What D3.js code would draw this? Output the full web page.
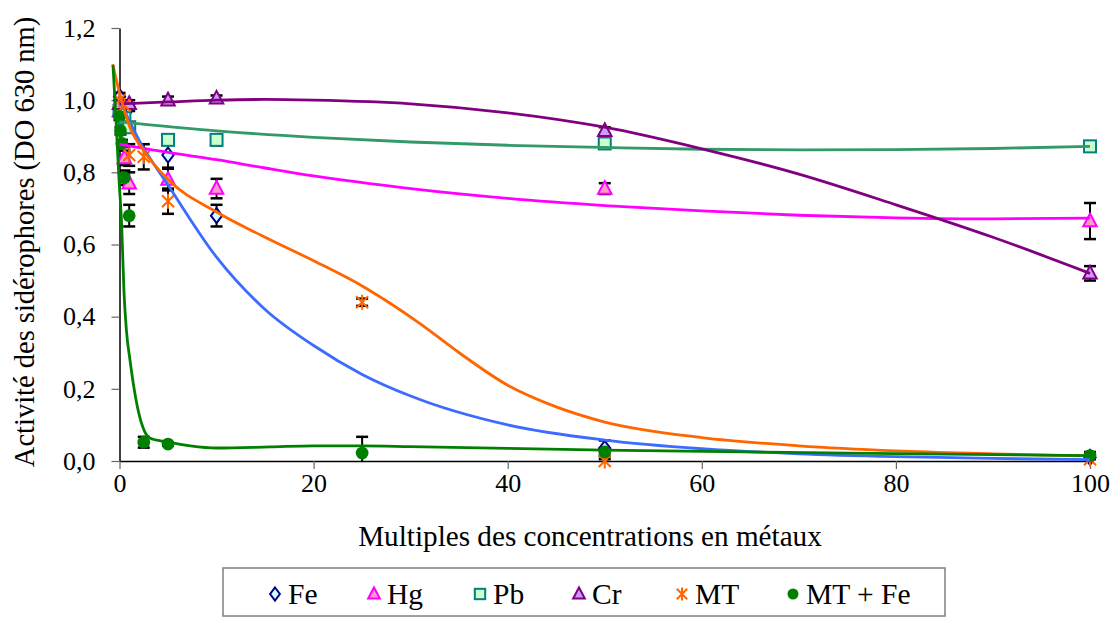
<!DOCTYPE html>
<html><head><meta charset="utf-8">
<script src="https://cdn.jsdelivr.net/npm/d3@7"></script>
<style>body{margin:0;background:#fff}svg{display:block}text{font-family:"Liberation Serif","Times New Roman",serif;fill:#000}</style>
</head><body>
<svg id="c" width="1115" height="619"></svg>
<script>
// ---- data ----
const feX = [0, 1, 5, 10, 50, 100];
const feY = [1.01, 0.98, 0.848, 0.68, 0.035, 0.01];
const feErr = [0.01, 0.01, 0.035, 0.03, 0.022, 0.01];

const hgX = [0, 0.5, 1, 5, 10, 50, 100];
const hgY = [0.97, 0.84, 0.77, 0.78, 0.755, 0.755, 0.665];
const hgErr = [0.01, 0.02, 0.03, 0.03, 0.027, 0.015, 0.05];

const pbX = [0, 0.5, 1, 5, 10, 50, 100];
const pbY = [0.97, 0.95, 0.925, 0.89, 0.89, 0.88, 0.872];
const pbErr = [0.01, 0.01, 0.01, 0.01, 0.015, 0.01, 0.005];

const crX = [0, 1, 5, 10, 50, 100];
const crY = [0.99, 0.99, 1.0, 1.005, 0.915, 0.52];
const crErr = [0.01, 0.01, 0.01, 0.008, 0.01, 0.02];

const mtX = [0, 0.5, 1, 2.5, 5, 25, 50, 100];
const mtY = [1.0, 0.985, 0.848, 0.843, 0.72, 0.44, 0.0, 0.005];
const mtErr = [0.01, 0.01, 0.03, 0.035, 0.035, 0.01, 0.005, 0.005];

const mfX = [0, 0.1, 0.25, 0.5, 1, 2.5, 5, 25, 50, 100];
const mfY = [0.955, 0.915, 0.88, 0.785, 0.68, 0.052, 0.047, 0.022, 0.025, 0.015];
const mfErr = [0.01, 0.01, 0.01, 0.02, 0.03, 0.015, 0.005, 0.045, 0.01, 0.01];

// trend curves
const feTrendX = [0, 2, 5, 10, 15, 20, 25, 30, 40, 50, 60, 70, 80, 90, 100];
const feTrendY = [1.0, 0.89, 0.765, 0.565, 0.42, 0.32, 0.24, 0.18, 0.10, 0.058, 0.034, 0.02, 0.012, 0.007, 0.004];

const hgTrendX = [0, 5, 10, 15, 20, 30, 40, 50, 60, 70, 80, 90, 100];
const hgTrendY = [0.878, 0.855, 0.835, 0.812, 0.79, 0.755, 0.728, 0.708, 0.693, 0.681, 0.674, 0.671, 0.673];

const pbTrendX = [0, 10, 20, 30, 40, 50, 60, 70, 80, 90, 100];
const pbTrendY = [0.94, 0.915, 0.897, 0.884, 0.875, 0.869, 0.864, 0.862, 0.863, 0.866, 0.872];

const crTrendX = [0, 5, 10, 15, 20, 30, 40, 50, 60, 70, 80, 90, 100];
const crTrendY = [0.99, 0.995, 1.0, 1.002, 1.0, 0.99, 0.965, 0.925, 0.865, 0.795, 0.71, 0.62, 0.52];

const mtTrendX = [-0.7, 0, 1, 2.5, 5, 10, 15, 20, 25, 28, 31, 35, 40, 45, 50, 60, 70, 80, 90, 99];
const mtTrendY = [1.10, 1.02, 0.93, 0.86, 0.78, 0.69, 0.62, 0.555, 0.485, 0.435, 0.38, 0.30, 0.21, 0.15, 0.108, 0.065, 0.042, 0.028, 0.02, 0.014];

const mfTrendX = [-0.67, -0.36, -0.05, 0.23, 0.46, 0.72, 1.08, 1.7, 2.4, 3.1, 4.9, 7.3, 10, 15.5, 20, 25, 30, 50, 75, 100];
const mfTrendY = [1.097, 0.945, 0.78, 0.65, 0.47, 0.36, 0.28, 0.17, 0.094, 0.064, 0.053, 0.042, 0.036, 0.039, 0.042, 0.042, 0.04, 0.03, 0.022, 0.015];

const yTicks = [0, 0.2, 0.4, 0.6, 0.8, 1.0, 1.2];
const xTicks = [0, 20, 40, 60, 80, 100];
const legendLabels = ["Fe", "Hg", "Pb", "Cr", "MT", "MT + Fe"];

// ---- chart ----
const svg = d3.select("#c");
const x = d3.scaleLinear().domain([0, 100]).range([119.5, 1090]);
const y = d3.scaleLinear().domain([0, 1.2]).range([461, 28]);
const fmt = d => d3.format(".1f")(d).replace(".", ",");

const gy = svg.append("g").attr("transform", `translate(${x(0)},0)`)
  .call(d3.axisLeft(y).tickValues(yTicks).tickFormat(fmt).tickSize(8).tickSizeOuter(0).tickPadding(16));
const gx = svg.append("g").attr("transform", `translate(0,${y(0)})`)
  .call(d3.axisBottom(x).tickValues(xTicks).tickSize(8).tickSizeOuter(0).tickPadding(5));
[gx, gy].forEach(g => {
  g.selectAll("text").style("font-size", "26px").style("font-family", '"Liberation Serif",serif');
  g.select(".domain").attr("stroke", "#000").attr("stroke-width", 1.5);
  g.selectAll(".tick line").attr("stroke", "#666").attr("stroke-width", 1.2);
});

svg.append("text").attr("x", 590).attr("y", 546).attr("text-anchor", "middle")
  .style("font-size", "29.2px").text("Multiples des concentrations en métaux");
svg.append("text").attr("transform", "translate(34,242) rotate(-90)").attr("text-anchor", "middle")
  .style("font-size", "28.5px").text("Activité des sidérophores (DO 630 nm)");

const series = [
  {name: "Fe", xs: feX, ys: feY, err: feErr, tx: feTrendX, ty: feTrendY, line: "#3d6bff", shape: "diamond", stroke: "#000080", fill: "#ccffff"},
  {name: "Hg", xs: hgX, ys: hgY, err: hgErr, tx: hgTrendX, ty: hgTrendY, line: "#ff00ff", shape: "triangle", stroke: "#ff00ff", fill: "#ff99cc"},
  {name: "Pb", xs: pbX, ys: pbY, err: pbErr, tx: pbTrendX, ty: pbTrendY, line: "#339966", shape: "square", stroke: "#008080", fill: "#ccffcc"},
  {name: "Cr", xs: crX, ys: crY, err: crErr, tx: crTrendX, ty: crTrendY, line: "#800080", shape: "triangle", stroke: "#800080", fill: "#cc99ff"},
  {name: "MT", xs: mtX, ys: mtY, err: mtErr, tx: mtTrendX, ty: mtTrendY, line: "#ff6600", shape: "star", stroke: "#ff6600", fill: "none"},
  {name: "MT + Fe", xs: mfX, ys: mfY, err: mfErr, tx: mfTrendX, ty: mfTrendY, line: "#008000", shape: "circle", stroke: "#008000", fill: "#008000"}
];

function marker(g, shape, cx, cy, s, stroke, fill) {
  if (shape === "diamond") {
    g.append("path").attr("d", `M${cx},${cy - s}L${cx + s * 0.75},${cy}L${cx},${cy + s}L${cx - s * 0.75},${cy}Z`)
      .attr("fill", fill).attr("stroke", stroke).attr("stroke-width", 2);
  } else if (shape === "triangle") {
    g.append("path").attr("d", `M${cx},${cy - s}L${cx + s * 0.9},${cy + s * 0.7}L${cx - s * 0.9},${cy + s * 0.7}Z`)
      .attr("fill", fill).attr("stroke", stroke).attr("stroke-width", 2);
  } else if (shape === "square") {
    const h = s * 0.8;
    g.append("rect").attr("x", cx - h).attr("y", cy - h).attr("width", 2 * h).attr("height", 2 * h)
      .attr("fill", fill).attr("stroke", stroke).attr("stroke-width", 2);
  } else if (shape === "circle") {
    g.append("circle").attr("cx", cx).attr("cy", cy).attr("r", s * 0.85).attr("fill", fill);
  } else if (shape === "star") {
    const d = s * 0.8;
    g.append("path").attr("d", `M${cx - d},${cy - d}L${cx + d},${cy + d}M${cx + d},${cy - d}L${cx - d},${cy + d}M${cx},${cy - s}L${cx},${cy + s}`)
      .attr("stroke", stroke).attr("stroke-width", 2).attr("fill", "none");
  }
}

// error bars
const ge = svg.append("g");
series.forEach(s => {
  s.xs.forEach((xv, i) => {
    const px = x(xv);
    const top = y(s.ys[i] + s.err[i]);
    const bot = y(Math.max(0, s.ys[i] - s.err[i]));
    ge.append("line").attr("x1", px).attr("x2", px).attr("y1", top).attr("y2", bot).attr("stroke", "#000").attr("stroke-width", 2);
    ge.append("line").attr("x1", px - 6).attr("x2", px + 6).attr("y1", top).attr("y2", top).attr("stroke", "#000").attr("stroke-width", 2.5);
    if (s.ys[i] - s.err[i] > 0)
      ge.append("line").attr("x1", px - 6).attr("x2", px + 6).attr("y1", bot).attr("y2", bot).attr("stroke", "#000").attr("stroke-width", 2.5);
  });
});
// markers
const gm = svg.append("g");
series.forEach(s => {
  s.xs.forEach((xv, i) => marker(gm, s.shape, x(xv), y(s.ys[i]), 7.5, s.stroke, s.fill));
});
// trend lines
const line = d3.line().x(d => x(d[0])).y(d => y(d[1])).curve(d3.curveMonotoneX);
series.forEach(s => {
  svg.append("path").datum(s.tx.map((v, i) => [v, s.ty[i]]))
    .attr("d", line).attr("fill", "none").attr("stroke", s.line).attr("stroke-width", 2.8);
});

// legend
const lg = svg.append("g");
lg.append("rect").attr("x", 223).attr("y", 568).attr("width", 722).attr("height", 48)
  .attr("fill", "#fff").attr("stroke", "#808080").attr("stroke-width", 1.5);
const legendMarkX = [275, 374, 480, 579, 682, 793];
series.forEach((s, i) => {
  marker(lg, s.shape, legendMarkX[i], 594, 6.5, s.stroke, s.fill);
  lg.append("text").attr("x", legendMarkX[i] + 13).attr("y", 604).style("font-size", "29.5px").text(legendLabels[i]);
});
</script>
</body></html>
